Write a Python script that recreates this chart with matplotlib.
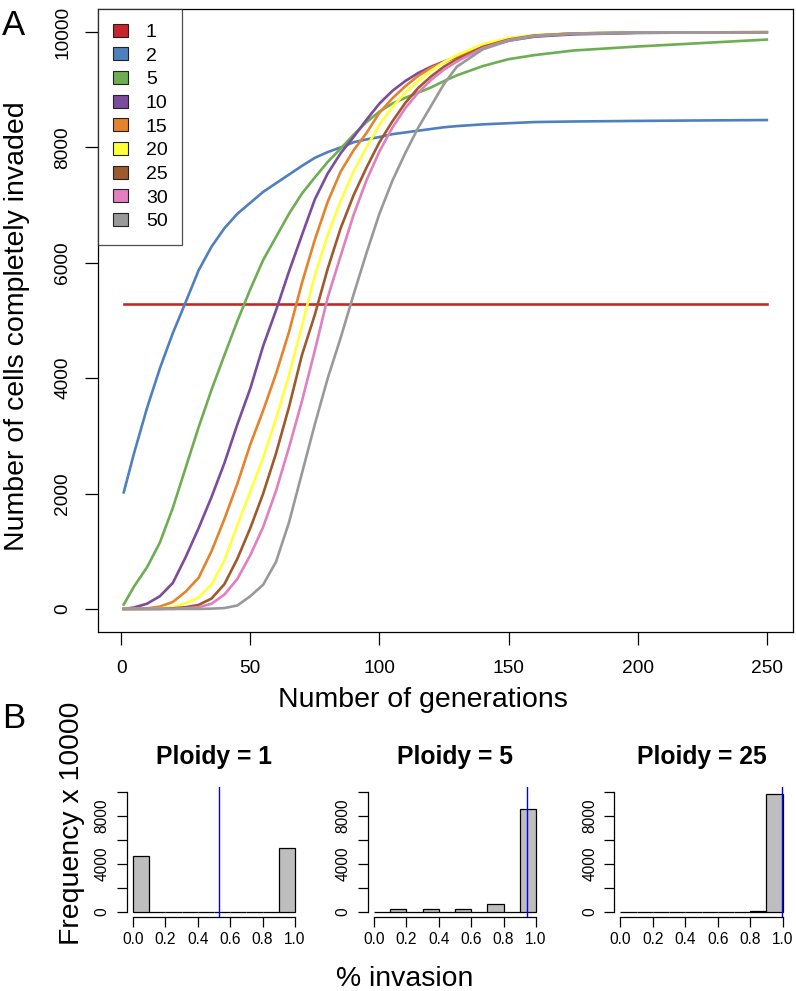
import matplotlib

matplotlib.use("Agg")

import matplotlib.pyplot as plt
from matplotlib.patches import Patch

plt.rcParams["font.family"] = ["Liberation Sans", "DejaVu Sans"]

# --- panel A: cells completely invaded per generation, by ploidy ---
gens = [1, 5, 10, 15, 20, 25, 30, 35, 40, 45, 50, 55, 60, 65, 70, 75, 80, 85,
        90, 95, 100, 105, 110, 115, 120, 125, 130, 140, 150, 160, 175, 200,
        225, 250]

ploidy1_gens = [1, 250]
ploidy1 = [5280, 5280]
ploidy2 = [2020, 2700, 3480, 4170, 4780, 5320, 5870, 6280, 6600, 6850, 7040,
           7230, 7380, 7530, 7680, 7820, 7920, 8000, 8090, 8140, 8180, 8230,
           8260, 8290, 8320, 8350, 8370, 8400, 8420, 8440, 8450, 8460, 8468,
           8475]
ploidy5 = [75, 390, 720, 1150, 1750, 2450, 3150, 3800, 4400, 4990, 5540, 6050,
           6450, 6850, 7200, 7480, 7750, 7980, 8220, 8440, 8620, 8760, 8860,
           8950, 9040, 9150, 9250, 9410, 9530, 9600, 9680, 9750, 9810, 9870]
ploidy10 = [0, 25, 90, 220, 450, 900, 1400, 1940, 2530, 3200, 3820, 4560, 5180,
            5850, 6480, 7100, 7550, 7900, 8180, 8480, 8760, 8980, 9150, 9290,
            9400, 9490, 9570, 9730, 9850, 9920, 9960, 9985, 9993, 9995]
ploidy15 = [0, 0, 10, 40, 120, 300, 540, 1000, 1560, 2170, 2850, 3440, 4080,
            4800, 5650, 6400, 7060, 7580, 7950, 8250, 8600, 8850, 9060, 9240,
            9380, 9480, 9580, 9760, 9880, 9940, 9975, 9990, 9995, 9997]
ploidy20 = [0, 0, 0, 10, 35, 100, 200, 420, 840, 1450, 2030, 2620, 3300, 4050,
            4900, 5780, 6480, 7070, 7580, 8000, 8390, 8700, 8950, 9150, 9330,
            9480, 9600, 9790, 9900, 9950, 9980, 9993, 9996, 9998]
ploidy25 = [0, 0, 0, 0, 10, 30, 70, 180, 430, 870, 1400, 2000, 2700, 3500,
            4400, 5100, 5900, 6600, 7170, 7650, 8090, 8450, 8770, 9030, 9230,
            9400, 9530, 9740, 9870, 9940, 9975, 9990, 9995, 9997]
ploidy30 = [0, 0, 0, 0, 0, 10, 30, 90, 250, 520, 930, 1420, 2050, 2800, 3600,
            4480, 5400, 6120, 6830, 7430, 7930, 8340, 8680, 8950, 9170, 9350,
            9490, 9720, 9860, 9935, 9975, 9990, 9995, 9997]
ploidy50 = [0, 0, 0, 0, 0, 0, 0, 5, 15, 60, 220, 420, 820, 1500, 2350, 3200,
            4000, 4700, 5450, 6170, 6850, 7420, 7900, 8340, 8720, 9100, 9400,
            9700, 9850, 9930, 9975, 9990, 9995, 9997]

labels = ["1", "2", "5", "10", "15", "20", "25", "30", "50"]
colors = ["#C9252C", "#4F80BD", "#6DAE52", "#7B4B9C", "#E5832C", "#FFFF3A",
          "#9C5A2D", "#E17FC0", "#999999"]

# --- panel B: histograms of % invasion ---
bin_edges = [0.0, 0.1, 0.2, 0.3, 0.4, 0.5, 0.6, 0.7, 0.8, 0.9]
hist_titles = ["Ploidy = 1", "Ploidy = 5", "Ploidy = 25"]
hist_p1 = [4700, 0, 0, 0, 0, 0, 0, 0, 0, 5300]
hist_p5 = [50, 250, 0, 250, 0, 300, 0, 650, 0, 8600]
hist_p25 = [0, 0, 0, 0, 0, 0, 0, 20, 130, 9850]
hist_means = [0.53, 0.945, 0.995]

W, H = 796, 991
fig = plt.figure(figsize=(W / 100, H / 100), dpi=100)


def fbox(left, top, right, bottom):
    return [left / W, 1 - bottom / H, (right - left) / W, (bottom - top) / H]


ax = fig.add_axes(fbox(98, 9, 792.5, 632))
ax.plot(ploidy1_gens, ploidy1, color=colors[0], lw=1.9)
for vals, c in zip([ploidy2, ploidy5, ploidy10, ploidy15, ploidy20, ploidy25,
                    ploidy30, ploidy50], colors[1:]):
    ax.plot(gens, vals, color=c, lw=1.9)

ax.set_xlim(-8.96, 259.96)
ax.set_ylim(-400, 10400)
ax.set_xticks([0, 50, 100, 150, 200, 250])
ax.set_yticks([0, 2000, 4000, 6000, 8000, 10000])
ax.tick_params(axis="both", direction="out", length=9.4, width=0.9,
               labelsize=13.8)
ax.tick_params(axis="x", pad=11)
ax.tick_params(axis="y", pad=10, labelrotation=90)
for lab in ax.get_yticklabels():
    lab.set_va("center")
for sp in ax.spines.values():
    sp.set_linewidth(0.9)

handles = [Patch(facecolor=c, edgecolor="#222222", linewidth=0.8)
           for c in colors]
leg = ax.legend(handles, labels, loc="upper left", fontsize=14,
                frameon=True, fancybox=False, edgecolor="#222222",
                borderaxespad=0, borderpad=0.75, handlelength=0.81,
                handleheight=0.67, handletextpad=0.9, labelspacing=0.32)
leg.get_frame().set_linewidth(0.9)

fig.text(423 / W, 1 - 707 / H, "Number of generations", fontsize=20.5,
         ha="center", va="baseline")
fig.text(17 / W, 1 - 326 / H, "Number of cells completely invaded",
         fontsize=20.5, ha="center", va="center", rotation=90)

# histograms
hist_lefts = [126.5, 367.5, 614]
for left, title, counts, mean in zip(hist_lefts, hist_titles,
                                     [hist_p1, hist_p5, hist_p25], hist_means):
    hx = fig.add_axes(fbox(left, 787, left + 175, 917))
    hx.bar(bin_edges, counts, width=0.1, align="edge", color="#BEBEBE",
           edgecolor="black", linewidth=0.9)
    hx.axvline(mean, color="#0000FF", lw=1.0)
    hx.set_xlim(-0.04, 1.04)
    hx.set_ylim(-400, 10400)
    hx.set_xticks([0.0, 0.2, 0.4, 0.6, 0.8, 1.0])
    hx.set_xticklabels(["0.0", "0.2", "0.4", "0.6", "0.8", "1.0"])
    hx.set_yticks([0, 2000, 4000, 6000, 8000, 10000])
    hx.set_yticklabels(["0", "", "4000", "", "8000", ""])
    hx.spines["top"].set_visible(False)
    hx.spines["right"].set_visible(False)
    hx.spines["left"].set_bounds(0, 10000)
    hx.spines["bottom"].set_bounds(0, 1)
    hx.spines["left"].set_linewidth(0.9)
    hx.spines["bottom"].set_linewidth(0.9)
    hx.tick_params(axis="both", direction="out", length=7, width=0.9,
                   labelsize=11.2)
    hx.tick_params(axis="x", pad=4)
    hx.tick_params(axis="y", pad=5, labelrotation=90)
    for lab in hx.get_yticklabels():
        lab.set_va("center")
    hx.set_title(title, fontsize=17.8, fontweight="bold", pad=16.5)

fig.text(72 / W, 1 - 823 / H, "Frequency x 10000", fontsize=20.4,
         ha="center", va="center", rotation=90)
fig.text(405 / W, 1 - 986 / H, "% invasion", fontsize=20.4,
         ha="center", va="baseline")

fig.text(2 / W, 1 - 35 / H, "A", fontsize=25, ha="left", va="baseline")
fig.text(2 / W, 1 - 728 / H, "B", fontsize=25, ha="left", va="baseline")

fig.savefig("out.png", dpi=100)
